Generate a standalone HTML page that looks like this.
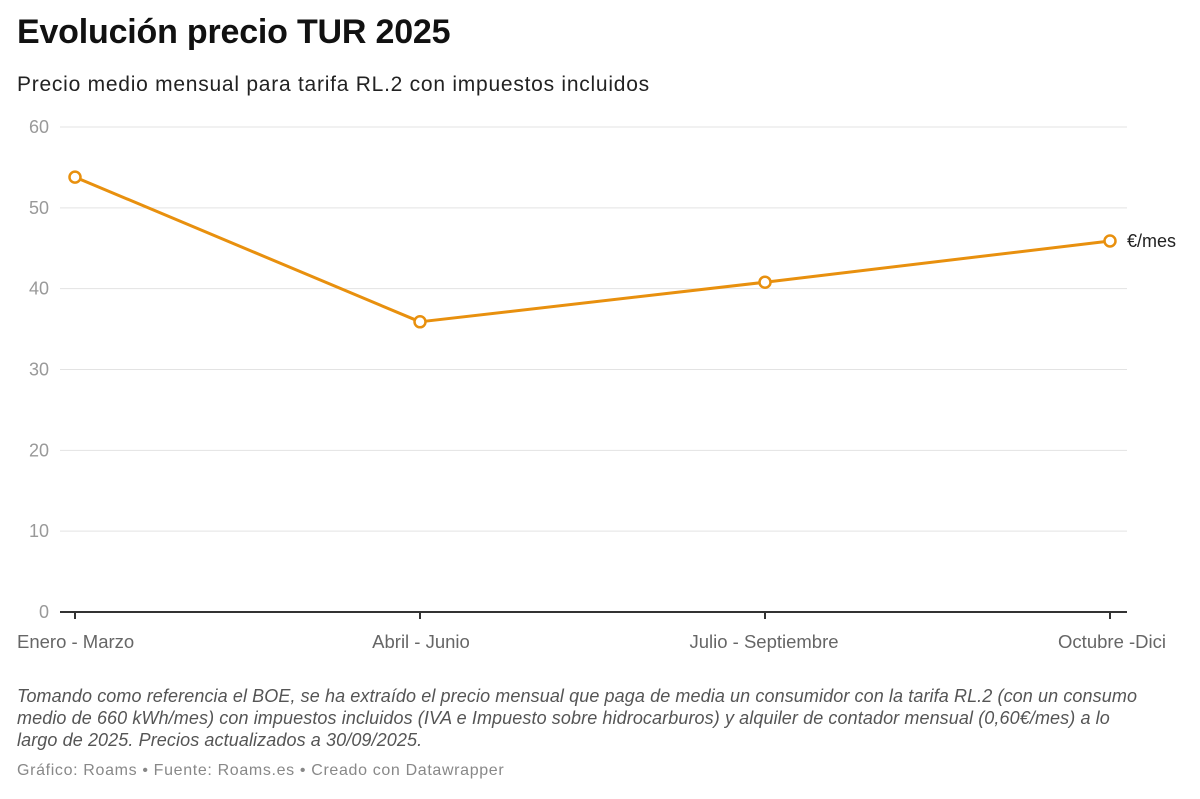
<!DOCTYPE html>
<html><head><meta charset="utf-8">
<style>
body{margin:0;background:#fff;font-family:"Liberation Sans",sans-serif;}
#wrap{position:relative;width:1200px;height:799px;overflow:hidden;}
h1{position:absolute;left:17px;top:13px;margin:0;font-size:34px;font-weight:bold;color:#111;letter-spacing:-0.2px;}
.sub{position:absolute;left:17px;top:73px;font-size:21px;letter-spacing:0.75px;color:#222;}
.note{position:absolute;left:17px;top:685px;width:1170px;font-size:18px;letter-spacing:0.1px;font-style:italic;color:#555;line-height:22px;}
.foot{position:absolute;left:17px;top:762px;font-size:16px;letter-spacing:0.65px;color:#888;}
svg{position:absolute;left:0;top:0;}
</style></head><body>
<div id="wrap">
<h1>Evolución precio TUR 2025</h1>
<div class="sub">Precio medio mensual para tarifa RL.2 con impuestos incluidos</div>
<svg id="chart" width="1200" height="680"></svg>
<div class="note">Tomando como referencia el BOE, se ha extraído el precio mensual que paga de media un consumidor con la tarifa RL.2 (con un consumo medio de 660 kWh/mes) con impuestos incluidos (IVA e Impuesto sobre hidrocarburos) y alquiler de contador mensual (0,60€/mes) a lo<br>largo de 2025. Precios actualizados a 30/09/2025.</div>
<div class="foot">Gráfico: Roams • Fuente: Roams.es • Creado con Datawrapper</div>
</div>
<script>
const categories=["Enero - Marzo","Abril - Junio","Julio - Septiembre","Octubre -Dici"];
const values=[53.8,35.9,40.8,45.9];
const yTicks=[0,10,20,30,40,50,60];
const seriesLabel="€/mes";
const NS="http://www.w3.org/2000/svg";
const svg=document.getElementById('chart');
const x0=75,x1=1110,yBase=612,yTop=127,yMax=60;
const xs=i=>x0+i*(x1-x0)/(categories.length-1);
const ys=v=>yBase-v*(yBase-yTop)/yMax;
function mk(t,a){const e=document.createElementNS(NS,t);for(const k in a)e.setAttribute(k,a[k]);svg.appendChild(e);return e;}
yTicks.forEach(t=>{
 if(t>0){const l=mk('line',{x1:60,x2:1127,y1:ys(t),y2:ys(t),stroke:'#e3e3e3','stroke-width':1});
 
 }
 const tx=mk('text',{x:49,y:ys(t)+6,'text-anchor':'end','font-size':18,fill:'#999','font-family':'Liberation Sans'});
 tx.textContent=t;
 
 
});
const ax=mk('line',{x1:60,x2:1127,y1:yBase,y2:yBase,stroke:'#333','stroke-width':2});


categories.forEach((c,i)=>{
 const tk=mk('line',{x1:xs(i),x2:xs(i),y1:yBase,y2:yBase+7,stroke:'#333','stroke-width':2});
 
 
 const anchor=i==0?'start':(i==categories.length-1?'end':'middle');
 const xx=i==0?17:(i==categories.length-1?1166:xs(i)+(i==1?1:-1));
 const t=mk('text',{x:xx,y:648,'text-anchor':anchor,'font-size':18.5,fill:'#666','font-family':'Liberation Sans'});
 t.textContent=c;
 
 
});
const pl=mk('polyline',{points:values.map((v,i)=>xs(i)+','+ys(v)).join(' '),fill:'none',stroke:'#e8900e','stroke-width':3,'stroke-linejoin':'round'});


values.forEach((v,i)=>{
 const c=mk('circle',{cx:xs(i),cy:ys(v),r:5.5,fill:'#fff',stroke:'#e8900e','stroke-width':2.5});
 
 
});
const last=values.length-1;
const lb=mk('text',{x:xs(last)+17,y:ys(values[last])+6,'font-size':18,fill:'#222','font-family':'Liberation Sans'});
lb.textContent=seriesLabel;


</script>
</body></html>
